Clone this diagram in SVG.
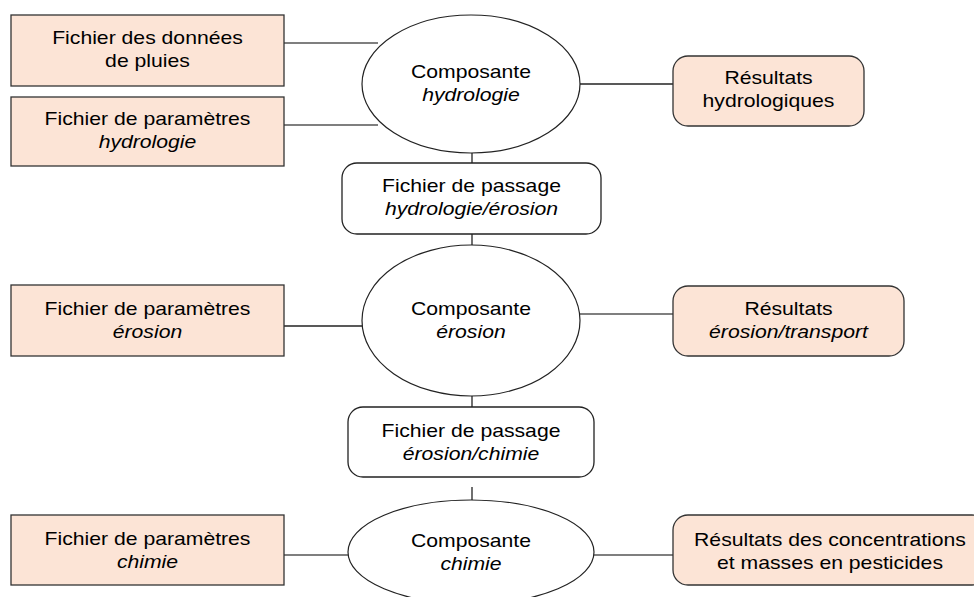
<svg xmlns="http://www.w3.org/2000/svg" width="974" height="597" viewBox="0 0 974 597">
<style>
  .in { fill: #fce4d6; stroke: #333; stroke-width: 1.3; }
  .res { fill: #fce4d6; stroke: #333; stroke-width: 1.3; }
  .pass { fill: #ffffff; stroke: #222; stroke-width: 1.3; }
  .comp { fill: #ffffff; stroke: #222; stroke-width: 1.2; }
  .conn line { stroke: #222; stroke-width: 1.3; }
  .conn line.g { stroke: #555; }
  text { font-family: "Liberation Sans", Arial, sans-serif; font-size: 19px; fill: #000; text-anchor: middle; }
  .it { font-style: italic; }
</style>
<rect width="974" height="597" fill="#ffffff"/>
<g class="conn" id="connectors">
  <line class="g" x1="284" y1="43" x2="378" y2="43"/>
  <line class="g" x1="284" y1="125" x2="378" y2="125"/>
  <line x1="580" y1="84" x2="673" y2="84"/>
  <line x1="472" y1="153" x2="472" y2="163"/>
  <line x1="472" y1="234" x2="472" y2="245"/>
  <line x1="284" y1="326" x2="362" y2="326"/>
  <line class="g" x1="580" y1="314" x2="673" y2="314"/>
  <line x1="472" y1="396" x2="472" y2="407"/>
  <line x1="472" y1="487" x2="472" y2="500"/>
  <line class="g" x1="284" y1="555" x2="348" y2="555"/>
  <line class="g" x1="594" y1="555" x2="673" y2="555"/>
</g>
<g id="pluies">
  <rect class="in" x="11" y="15" width="273" height="71"/>
  <g transform="translate(147.5,0) scale(1.115,1)">
    <text x="0" y="44">Fichier des données</text>
    <text x="0" y="67">de pluies</text>
  </g>
</g>
<g id="param-hydro">
  <rect class="in" x="11" y="97" width="273" height="69"/>
  <g transform="translate(147.5,0) scale(1.115,1)">
    <text x="0" y="125">Fichier de paramètres</text>
    <text x="0" y="148" class="it">hydrologie</text>
  </g>
</g>
<g id="comp-hydro">
  <ellipse class="comp" cx="471" cy="84" rx="109" ry="69"/>
  <g transform="translate(471,0) scale(1.115,1)">
    <text x="0" y="78">Composante</text>
    <text x="0" y="101" class="it">hydrologie</text>
  </g>
</g>
<g id="res-hydro">
  <rect class="res" x="673" y="56" width="191" height="70" rx="15"/>
  <g transform="translate(768.5,0) scale(1.115,1)">
    <text x="0" y="84">Résultats</text>
    <text x="0" y="107">hydrologiques</text>
  </g>
</g>
<g id="pass-hydro-ero">
  <rect class="pass" x="342" y="163" width="259" height="71" rx="15"/>
  <g transform="translate(471.5,0) scale(1.115,1)">
    <text x="0" y="192">Fichier de passage</text>
    <text x="0" y="215" class="it">hydrologie/érosion</text>
  </g>
</g>
<g id="param-ero">
  <rect class="in" x="11" y="285" width="273" height="71"/>
  <g transform="translate(147.5,0) scale(1.115,1)">
    <text x="0" y="315">Fichier de paramètres</text>
    <text x="0" y="338" class="it">érosion</text>
  </g>
</g>
<g id="comp-ero">
  <ellipse class="comp" cx="471" cy="320.5" rx="109" ry="75.5"/>
  <g transform="translate(471,0) scale(1.115,1)">
    <text x="0" y="315">Composante</text>
    <text x="0" y="338" class="it">érosion</text>
  </g>
</g>
<g id="res-ero">
  <rect class="res" x="673" y="286" width="231" height="70" rx="15"/>
  <g transform="translate(788.5,0) scale(1.115,1)">
    <text x="0" y="315">Résultats</text>
    <text x="0" y="338" class="it">érosion/transport</text>
  </g>
</g>
<g id="pass-ero-chim">
  <rect class="pass" x="348" y="407" width="246" height="70" rx="15"/>
  <g transform="translate(471,0) scale(1.115,1)">
    <text x="0" y="437">Fichier de passage</text>
    <text x="0" y="460" class="it">érosion/chimie</text>
  </g>
</g>
<g id="param-chim">
  <rect class="in" x="11" y="515" width="273" height="70"/>
  <g transform="translate(147.5,0) scale(1.115,1)">
    <text x="0" y="545">Fichier de paramètres</text>
    <text x="0" y="568" class="it">chimie</text>
  </g>
</g>
<g id="comp-chim">
  <ellipse class="comp" cx="471" cy="552" rx="123" ry="52"/>
  <g transform="translate(471,0) scale(1.115,1)">
    <text x="0" y="547">Composante</text>
    <text x="0" y="570" class="it">chimie</text>
  </g>
</g>
<g id="res-chim">
  <rect class="res" x="673" y="515" width="314" height="70" rx="15"/>
  <g transform="translate(830,0) scale(1.115,1)">
    <text x="0" y="546">Résultats des concentrations</text>
    <text x="0" y="569">et masses en pesticides</text>
  </g>
</g>
</svg>
